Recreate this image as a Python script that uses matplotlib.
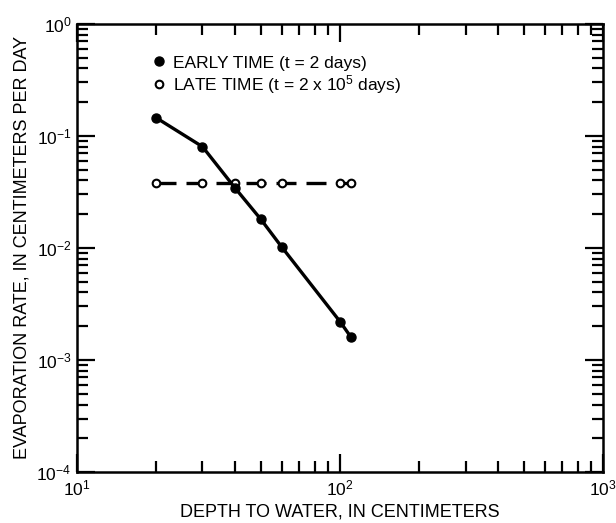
import matplotlib
matplotlib.use("Agg")
import matplotlib.pyplot as plt
from matplotlib.ticker import LogLocator, LogFormatterMathtext, NullFormatter

plt.rcParams['font.family'] = ['Liberation Sans', 'DejaVu Sans']
plt.rcParams['mathtext.default'] = 'regular'

# Data
early_depth = [20, 30, 40, 50, 60, 100, 110]
early_rate = [0.145, 0.08, 0.034, 0.018, 0.0102, 0.0022, 0.0016]
late_depth = [20, 30, 40, 50, 60, 100, 110]
late_rate = [0.038, 0.038, 0.038, 0.038, 0.038, 0.038, 0.038]
early_label = "EARLY TIME (t = 2 days)"
late_label = "LATE TIME (t = 2 x 10$^5$ days)"
xlabel = "DEPTH TO WATER, IN CENTIMETERS"
ylabel = "EVAPORATION RATE, IN CENTIMETERS PER DAY"

fig = plt.figure(figsize=(6.16, 5.23), dpi=100)
ax = fig.add_axes([0.125, 0.0975, 0.854, 0.857])

ax.plot(early_depth, early_rate, '-', color='black', lw=2.4,
        marker='o', ms=6.5, mfc='black', mec='black', label=early_label, zorder=3)
ax.plot(late_depth, late_rate, '--', color='black', lw=2.4, dashes=(6, 3),
        marker='o', ms=5.5, mfc='white', mec='black', mew=1.5, label=late_label, zorder=2)

ax.set_xscale('log')
ax.set_yscale('log')
ax.set_xlim(10, 1000)
ax.set_ylim(1e-4, 1)

for axis in (ax.xaxis, ax.yaxis):
    axis.set_major_locator(LogLocator(base=10, numticks=10))
    axis.set_minor_locator(LogLocator(base=10, subs=range(2, 10), numticks=10))
    axis.set_major_formatter(LogFormatterMathtext())
    axis.set_minor_formatter(NullFormatter())

ax.tick_params(which='both', direction='in', top=True, right=True, width=1.6, labelsize=12.5, colors='black')
ax.tick_params(which='major', length=13)
ax.tick_params(which='minor', length=8)
ax.tick_params(axis='x', pad=5)
ax.tick_params(axis='y', pad=4)
for s in ax.spines.values():
    s.set_linewidth(1.8)

ax.set_xlabel(xlabel, fontsize=13, labelpad=3)
ax.set_ylabel(ylabel, fontsize=13, labelpad=4)

leg = ax.legend(loc='upper left', bbox_to_anchor=(0.142, 0.945), frameon=False,
                handlelength=0, handletextpad=0.8, fontsize=12.5, labelspacing=0.15,
                borderaxespad=0)

fig.savefig("out.png", dpi=100)
